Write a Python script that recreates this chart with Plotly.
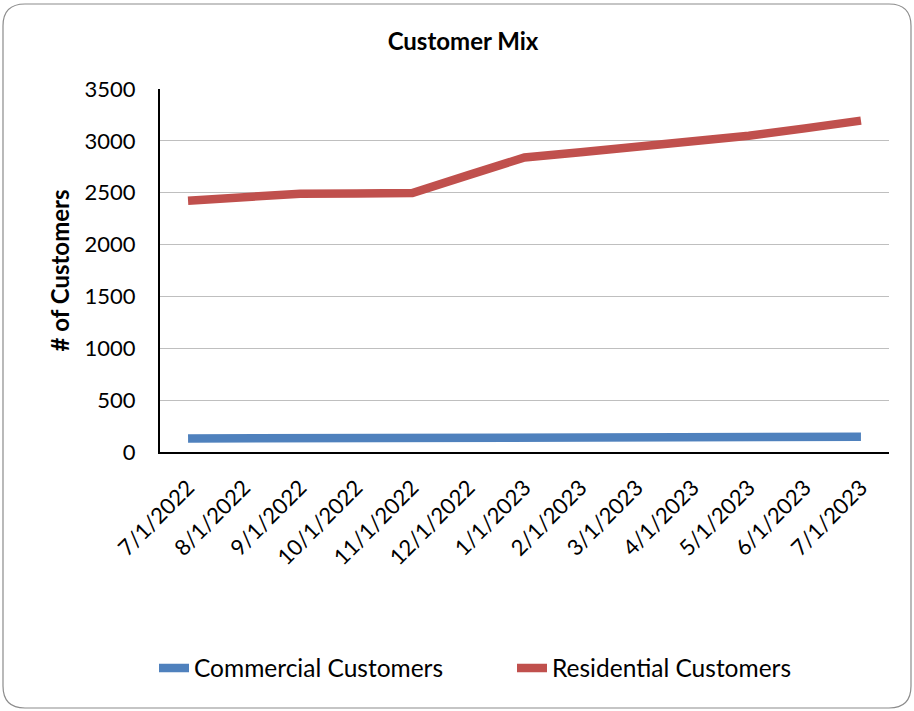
import plotly.graph_objects as go

months = ["7/1/2022", "8/1/2022", "9/1/2022", "10/1/2022", "11/1/2022", "12/1/2022",
          "1/1/2023", "2/1/2023", "3/1/2023", "4/1/2023", "5/1/2023", "6/1/2023", "7/1/2023"]
commercial = [130, 133, 135, 136, 137, 138, 140, 139, 140, 141, 143, 145, 147]
residential = [2423, 2458, 2490, 2493, 2497, 2670, 2840, 2890, 2940, 2990, 3050, 3120, 3195]

W, H = 914, 711
L, R, T, B = 160, 25, 89, 259
pw, ph = W - L - R, H - T - B

def px_x(p):
    return (p - L) / pw

def px_y(p):
    return (H - B - p) / ph

font = "Lato, Liberation Sans, sans-serif"

fig = go.Figure()
fig.add_trace(go.Scatter(x=months, y=commercial, mode="lines", name="Commercial Customers",
                         line=dict(color="#4F81BD", width=8.5)))
fig.add_trace(go.Scatter(x=months, y=residential, mode="lines", name="Residential Customers",
                         line=dict(color="#C0504D", width=8.5)))

# rounded outer border
x0, x1, y0, y1, r = 3, 911, 4, 708, 22
path = (f"M {px_x(x0 + r)},{px_y(y0)} L {px_x(x1 - r)},{px_y(y0)} "
        f"Q {px_x(x1)},{px_y(y0)} {px_x(x1)},{px_y(y0 + r)} "
        f"L {px_x(x1)},{px_y(y1 - r)} Q {px_x(x1)},{px_y(y1)} {px_x(x1 - r)},{px_y(y1)} "
        f"L {px_x(x0 + r)},{px_y(y1)} Q {px_x(x0)},{px_y(y1)} {px_x(x0)},{px_y(y1 - r)} "
        f"L {px_x(x0)},{px_y(y0 + r)} Q {px_x(x0)},{px_y(y0)} {px_x(x0 + r)},{px_y(y0)} Z")

fig.update_layout(
    width=W, height=H,
    margin=dict(l=L, r=R, t=T, b=B),
    paper_bgcolor="white", plot_bgcolor="white",
    font=dict(family=font, color="black", size=18),
    title=dict(text="<b>Customer Mix</b>", x=px_x(463), xanchor="center", xref="paper",
               y=1 - 42 / H, yanchor="middle", font=dict(size=24, family=font)),
    showlegend=True,
    legend=dict(orientation="h", x=px_x(154), xanchor="left", y=px_y(668), yanchor="middle",
                font=dict(size=24.5, family=font), entrywidth=313, entrywidthmode="pixels",
                traceorder="normal"),
    shapes=[dict(type="path", path=path, xref="paper", yref="paper",
                 line=dict(color="#8c8c8c", width=1.2), layer="below")],
)
fig.update_xaxes(type="category", tickangle=-45, showline=True, linecolor="black", linewidth=2,
                 showgrid=False, ticks="", tickfont=dict(size=22, family=font),
                 ticklabelstandoff=12, range=[-0.5, len(months) - 0.5])
fig.update_yaxes(range=[0, 3500], dtick=500, showline=True, linecolor="black", linewidth=2,
                 gridcolor="#BFBFBF", gridwidth=1, ticks="", tickfont=dict(size=22, family=font),
                 ticklabelstandoff=18,
                 title=dict(text="<b># of Customers</b>", font=dict(size=24, family=font), standoff=8),
                 zeroline=False)

fig.write_html("out.html", config={"displayModeBar": False},
               post_script="document.body.style.margin='0';")
